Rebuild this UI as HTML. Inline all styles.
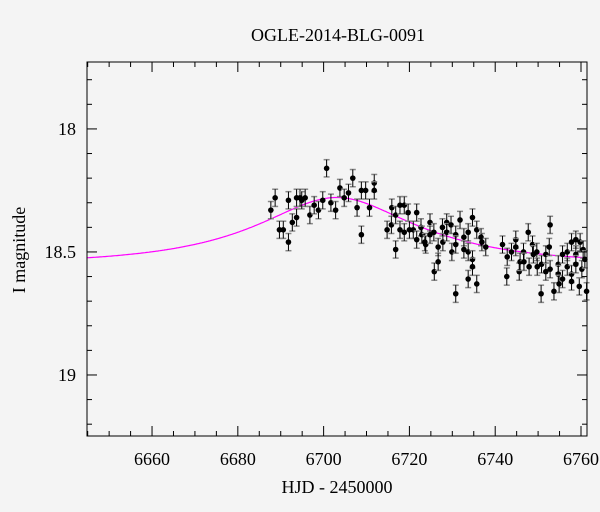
<!DOCTYPE html>
<html><head><meta charset="utf-8"><style>
html,body{margin:0;padding:0;background:#f4f4f4;}
svg{display:block;font-family:"Liberation Serif",serif;}
</style></head><body>
<svg id="chart" width="600" height="512" viewBox="0 0 600 512">
<rect width="600" height="512" fill="#f4f4f4"/>
<text x="338" y="41" font-size="18" text-anchor="middle">OGLE-2014-BLG-0091</text>
<text x="337" y="493" font-size="18" text-anchor="middle">HJD - 2450000</text>
<text transform="translate(25,250) rotate(-90)" font-size="18" text-anchor="middle">I magnitude</text>
<g id="ticks"></g>
<g id="model"></g>
<g id="points"></g>
<rect x="87" y="62" width="500" height="374" fill="none" stroke="#000" stroke-width="1"/>
</svg>
<script>
const days = [6687.7,6688.7,6689.7,6690.6,6691.8,6691.8,6692.7,6693.7,6693.7,6694.5,6694.9,6695.7,6696.8,6697.8,6698.8,6699.8,6700.7,6701.7,6702.8,6703.8,6704.8,6705.8,6706.8,6707.8,6708.8,6708.8,6709.8,6710.7,6711.8,6711.8,
6715.9,6714.8,6715.8,6716.8,6716.8,6717.8,6717.8,6718.8,6718.8,6719.7,6720.0,6720.9,6721.7,6721.7,6722.7,6722.9,6723.6,6723.8,6724.8,6724.8,6725.7,6725.8,6726.7,6726.7,6727.7,6727.8,6728.7,6728.7,6729.7,6729.9,6730.8,6730.8,6731.8,6732.7,6732.7,6733.7,6733.7,6734.7,6734.7,6734.7,6733.7,6735.7,6735.7,6736.7,6736.9,6730.8,
6737.8,6741.7,6742.8,6742.7,6743.8,6744.8,6744.8,6745.6,6745.8,6746.6,6746.7,6747.7,6747.9,6748.7,6748.9,6749.7,6749.8,6750.7,6750.8,6751.8,6751.8,6752.6,6752.8,6752.8,6753.7,6754.7,6754.7,6754.9,6755.7,6755.7,6756.8,6756.8,6757.8,6757.8,6757.8,6758.8,6758.8,6758.8,6759.8,6759.6,6760.2,6760.5,6760.9,6761.3];
const mags = [18.33,18.28,18.41,18.41,18.29,18.46,18.38,18.28,18.36,18.28,18.29,18.28,18.35,18.31,18.33,18.29,18.16,18.30,18.33,18.24,18.28,18.26,18.20,18.32,18.25,18.43,18.25,18.32,18.22,18.25,
18.32,18.41,18.39,18.35,18.49,18.31,18.41,18.31,18.42,18.34,18.41,18.41,18.34,18.45,18.40,18.43,18.46,18.47,18.38,18.43,18.42,18.58,18.48,18.54,18.40,18.46,18.38,18.42,18.39,18.50,18.43,18.47,18.37,18.44,18.49,18.42,18.50,18.36,18.53,18.56,18.61,18.41,18.63,18.44,18.46,18.67,
18.48,18.47,18.52,18.60,18.50,18.45,18.48,18.58,18.54,18.50,18.54,18.42,18.56,18.47,18.51,18.50,18.56,18.67,18.55,18.58,18.51,18.48,18.57,18.39,18.66,18.55,18.59,18.63,18.51,18.61,18.50,18.56,18.46,18.59,18.62,18.45,18.51,18.55,18.46,18.64,18.57,18.49,18.53,18.66];
const magErr = 0.035;
// microlensing model parameters
const modelT0 = 6703, modelTE = 36.7, modelU0 = 0.5, modelBase = 18.55, modelFs = 0.24;
const xTicksMajor = [6660,6680,6700,6720,6740,6760];
const yTicksMajor = [18,18.5,19];

const X0=87,X1=587,Y0=62,Y1=436;
const dMin=6644.84, dMax=6761.4, mTop=17.728, mBot=19.248;
const sx = d => X0+(d-dMin)/(dMax-dMin)*(X1-X0);
const sy = m => Y0+(m-mTop)/(mBot-mTop)*(Y1-Y0);
const NS="http://www.w3.org/2000/svg";
function mk(tag,attrs,parent){const e=document.createElementNS(NS,tag);for(const k in attrs)e.setAttribute(k,attrs[k]);parent.appendChild(e);return e;}
const tg=document.getElementById('ticks');
// x ticks
for(let d=6645; d<=6761; d+=5){
  const major = d%20===0, L = major?10:5, x=sx(d);
  const t1=mk('line',{x1:x,y1:Y1,x2:x,y2:Y1-L,stroke:'#000'},tg);
  
  
  const t2=mk('line',{x1:x,y1:Y0,x2:x,y2:Y0+L,stroke:'#000'},tg);
  
  
}
xTicksMajor.forEach(d=>{
  const t=mk('text',{x:sx(d),y:Y1+29,'font-size':18,'text-anchor':'middle'},tg);
  t.textContent=d;
  
  
});
// y ticks
for(let i=18; i<=192; i++){
  const m=i/10; if(m<mTop||m>mBot)continue;
  const major=i%5===0, L=major?10:5, y=sy(m);
  const a=mk('line',{x1:X0,y1:y,x2:X0+L,y2:y,stroke:'#000'},tg);
  
  
  const b=mk('line',{x1:X1,y1:y,x2:X1-L,y2:y,stroke:'#000'},tg);
  
  
}
yTicksMajor.forEach(m=>{
  const t=mk('text',{x:X0-11,y:sy(m)+6,'font-size':18,'text-anchor':'end'},tg);
  t.textContent=String(m);
  
  
});
// model
let pts=[];
for(let px=X0;px<=X1;px+=1){
  const d=dMin+(px-X0)/(X1-X0)*(dMax-dMin);
  const tau=(d-modelT0)/modelTE, u=Math.sqrt(modelU0*modelU0+tau*tau);
  const A=(u*u+2)/(u*Math.sqrt(u*u+4));
  const m=modelBase-2.5*Math.log10(1+modelFs*(A-1));
  pts.push(px.toFixed(1)+','+sy(m).toFixed(1));
}
const mdl=mk('polyline',{points:pts.join(' '),fill:'none',stroke:'#ff00ff','stroke-width':1.2},document.getElementById('model'));


// points
const pg=document.getElementById('points');
days.forEach((d,i)=>{
  const x=sx(d), y=sy(mags[i]), yt=sy(mags[i]-magErr), yb=sy(mags[i]+magErr);
  const g=mk('g',{},pg);
  
  
  mk('line',{x1:x-3,y1:yt,x2:x+3,y2:yt,stroke:'#888','stroke-width':1.5},g);
  mk('line',{x1:x-3,y1:yb,x2:x+3,y2:yb,stroke:'#888','stroke-width':1.5},g);
  mk('line',{x1:x,y1:yt,x2:x,y2:yb,stroke:'#000','stroke-width':1},g);
  mk('circle',{cx:x,cy:y,r:2.8,fill:'#000'},g);
});
</script>
</body></html>
